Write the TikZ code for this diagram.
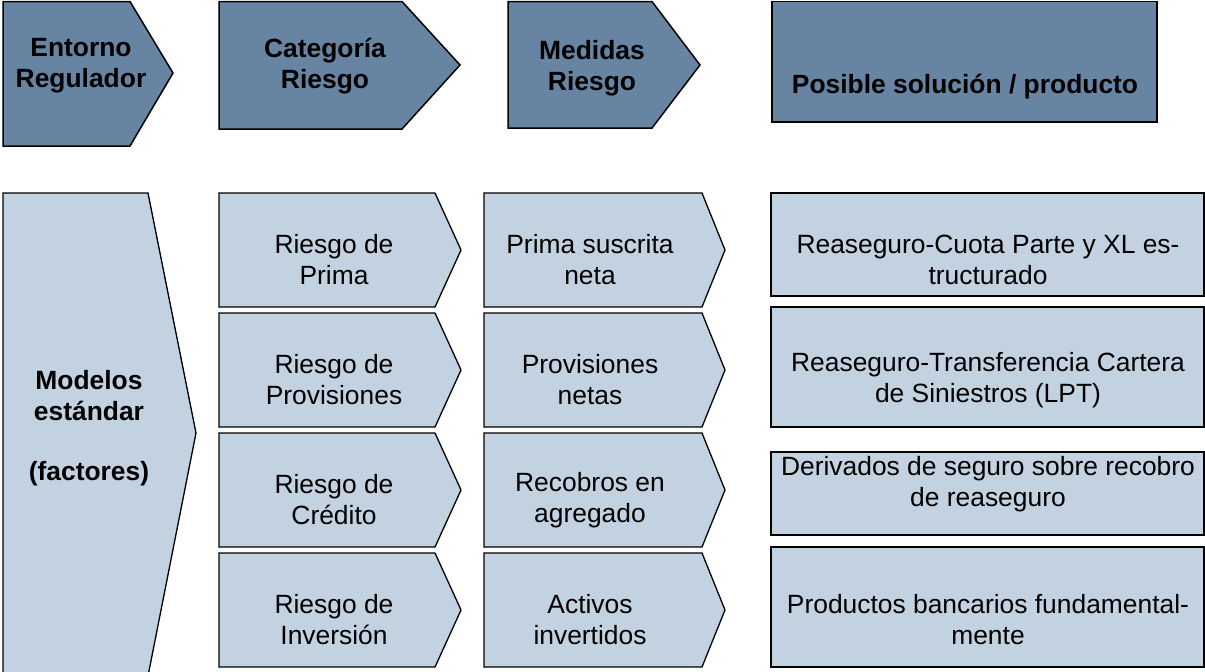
\documentclass[tikz,border=0pt]{standalone}
\usepackage{fontspec}
\setmainfont{Liberation Sans}
\usepackage[table]{xcolor}
\definecolor{oscuro}{RGB}{103,133,163}
\definecolor{claro}{RGB}{195,210,225}

\begin{document}
\begin{tikzpicture}[x=1pt,y=-1pt,
    cab/.style={draw=black,fill=oscuro,line width=1.5pt},
    celda/.style={draw=black,fill=claro,line width=1.3pt},
    txt/.style={align=center,font=\fontsize{26.4}{31}\selectfont},
    txtb/.style={align=center,font=\fontsize{26.4}{31}\selectfont\bfseries}]
    \useasboundingbox (0,0) rectangle (1205,672);

    % cabeceras
    \draw[cab] (3,1.5) -- (130,1.5) -- (173,73) -- (130,146) -- (3,146) -- cycle;
    \draw[cab] (219,1.5) -- (402,1.5) -- (460,65) -- (402,129) -- (219,129) -- cycle;
    \draw[cab] (508,1.5) -- (652,1.5) -- (700,65) -- (652,128) -- (508,128) -- cycle;
    \draw[cab] (772,1.5) rectangle (1157,122);

    \node[txtb] (entorno) at (81,66) {Entorno\\Regulador};
    \node[txtb] (categoria) at (325,66) {Categoría\\Riesgo};
    \node[txtb] (medidas) at (592,68) {Medidas\\Riesgo};
    \node[txtb] (posible) at (965,87) {Posible solución / producto};

    % entorno regulador
    \draw[celda] (3,193) -- (148,193) -- (196,433) -- (148,676) -- (3,676) -- cycle;
    \node[txtb] (modelos) at (89,428) {Modelos\\estándar\\[29pt](factores)};

    % categorias de riesgo
    \draw[celda] (219,193) -- (435,193) -- (461,250) -- (435,307) -- (219,307) -- cycle;
    \draw[celda] (219,313) -- (435,313) -- (461,370) -- (435,427) -- (219,427) -- cycle;
    \draw[celda] (219,433) -- (435,433) -- (461,490) -- (435,547) -- (219,547) -- cycle;
    \draw[celda] (219,553) -- (435,553) -- (461,610) -- (435,667) -- (219,667) -- cycle;

    \node[txt] (prima) at (334,260) {Riesgo de\\Prima};
    \node[txt] (provisiones) at (334,380) {Riesgo de\\Provisiones};
    \node[txt] (credito) at (334,500) {Riesgo de\\Crédito};
    \node[txt] (inversion) at (334,620) {Riesgo de\\Inversión};

    % medidas
    \draw[celda] (484,193) -- (702,193) -- (725,250) -- (702,307) -- (484,307) -- cycle;
    \draw[celda] (484,313) -- (702,313) -- (725,370) -- (702,427) -- (484,427) -- cycle;
    \draw[celda] (484,433) -- (702,433) -- (725,490) -- (702,547) -- (484,547) -- cycle;
    \draw[celda] (484,553) -- (702,553) -- (725,610) -- (702,667) -- (484,667) -- cycle;

    \node[txt] (suscrita) at (590,260) {Prima suscrita\\neta};
    \node[txt] (netas) at (590,380) {Provisiones\\netas};
    \node[txt] (recobros) at (590,500) {Recobros en\\agregado};
    \node[txt] (activos) at (590,620) {Activos\\invertidos};

    % soluciones
    \draw[celda] (771,193) rectangle (1204,296);
    \draw[celda] (771,307) rectangle (1204,427);
    \draw[celda] (771,452) rectangle (1204,535);
    \draw[celda] (771,547) rectangle (1204,667);

    \node[txt] (cuota) at (988,260) {Reaseguro-Cuota Parte y XL es-\\tructurado};
    \node[txt] (lpt) at (988,380) {Reaseguro-Transferencia Cartera\\de Siniestros (LPT)};
    \node[txt] (derivados) at (988,484) {Derivados de seguro sobre recobro\\de reaseguro};
    \node[txt] (bancarios) at (988,620) {Productos bancarios fundamental-\\mente};
\end{tikzpicture}
\end{document}
